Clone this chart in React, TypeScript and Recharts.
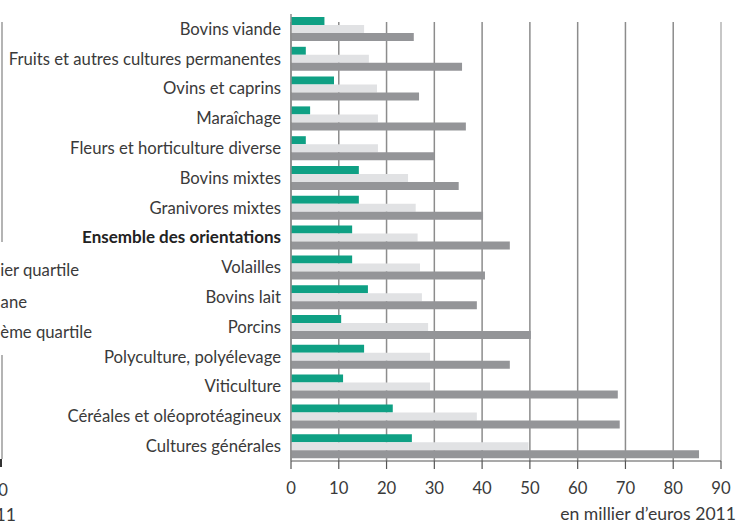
import React from "react";
import { BarChart, Bar, XAxis, YAxis, CartesianGrid } from "recharts";

const categories = [
  "Bovins viande",
  "Fruits et autres cultures permanentes",
  "Ovins et caprins",
  "Maraîchage",
  "Fleurs et horticulture diverse",
  "Bovins mixtes",
  "Granivores mixtes",
  "Ensemble des orientations",
  "Volailles",
  "Bovins lait",
  "Porcins",
  "Polyculture, polyélevage",
  "Viticulture",
  "Céréales et oléoprotéagineux",
  "Cultures générales",
];
const premierQuartile = [7, 3.1, 9, 4, 3.1, 14.2, 14.2, 12.8, 12.8, 16.1, 10.5, 15.3, 10.9, 21.3, 25.3];
const mediane = [15.3, 16.3, 18, 18.2, 18.2, 24.5, 26.1, 26.5, 27, 27.4, 28.7, 29.1, 29.1, 38.9, 49.7];
const troisiemeQuartile = [25.7, 35.8, 26.8, 36.6, 30, 35.1, 40.2, 45.8, 40.6, 38.9, 50.2, 45.8, 68.4, 68.8, 85.4];
const xTicks = [0, 10, 20, 30, 40, 50, 60, 70, 80, 90];
const axisTitle = "en millier d\u2019euros 2011";
const boldCategory = "Ensemble des orientations";

const data = categories.map((name, i) => ({
  name,
  q1: premierQuartile[i],
  med: mediane[i],
  q3: troisiemeQuartile[i],
}));

const FONT = "Lato, 'Open Sans', sans-serif";
const TEXT = "#3a3a3a";
const FS = 16.7;

const YTick = (props: any) => {
  const { x, y, payload } = props;
  const bold = payload.value === boldCategory;
  return (
    <text
      x={x}
      y={y}
      dy="0.35em"
      textAnchor="end"
      fill={bold ? "#222" : TEXT}
      fontSize={bold ? 17 : FS}
      fontWeight={bold ? 700 : 400}
      fontFamily={FONT}
    >
      {payload.value}
    </text>
  );
};

const XTick = (props: any) => {
  const { x, y, payload } = props;
  return (
    <text x={x} y={y} dy="0.71em" textAnchor="middle" fill={TEXT} fontSize={FS} fontFamily={FONT}>
      {payload.value}
    </text>
  );
};

const GridLine = (props: any) => {
  const { x1, x2, y1, y2, index } = props;
  const last = index === xTicks.length - 1;
  return (
    <line
      key={`g-${index}`}
      x1={x1}
      x2={x2}
      y1={Math.min(y1, y2) + 8}
      y2={Math.max(y1, y2)}
      stroke={last ? "#b4b4b4" : "#8c8c8c"}
      strokeWidth={1.5}
    />
  );
};

const abs = (style: React.CSSProperties): React.CSSProperties => ({
  position: "absolute",
  fontFamily: FONT,
  fontSize: FS,
  color: TEXT,
  whiteSpace: "nowrap",
  lineHeight: "20px",
  ...style,
});

export default function App() {
  return (
    <div style={{ position: "absolute", left: 0, top: 0, width: 738, height: 522, overflow: "hidden", background: "#fff" }}>
      {/* fragments of the neighbouring chart, cut by the left edge */}
      <div style={abs({ left: -300, width: 379, top: 260, textAlign: "right" })}>Premier quartile</div>
      <div style={abs({ left: -300, width: 327, top: 292, textAlign: "right" })}>Médiane</div>
      <div style={abs({ left: -300, width: 392, top: 322, textAlign: "right" })}>Troisième quartile</div>
      <div style={abs({ left: -300, width: 308, top: 480, textAlign: "right" })}>0</div>
      <div style={abs({ left: -300, width: 316, top: 505, fontSize: 17.6, textAlign: "right" })}>{axisTitle}</div>
      <div style={{ position: "absolute", left: 1, top: 22, width: 1.5, height: 220, background: "#b4b4b4" }} />
      <div style={{ position: "absolute", left: 1, top: 355, width: 1.5, height: 104, background: "#b4b4b4" }} />
      <div style={{ position: "absolute", left: 0, top: 459, width: 2, height: 8, background: "#333" }} />

      <div style={{ position: "absolute", left: 0, top: 0 }}>
        <BarChart
          width={738}
          height={522}
          data={data}
          layout="vertical"
          margin={{ top: 14, right: 17, bottom: 0, left: 0 }}
          barSize={8}
          barGap={0}
        >
          <CartesianGrid horizontal={false} vertical={GridLine as any} />
          <XAxis
            type="number"
            domain={[0, 90]}
            ticks={xTicks}
            interval={0}
            height={61}
            axisLine={{ stroke: "#555", strokeWidth: 1.2 }}
            tickLine={{ stroke: "#555", strokeWidth: 1.2 }}
            tickSize={8}
            tickMargin={13}
            tick={<XTick />}
          />
          <YAxis
            type="category"
            dataKey="name"
            width={291}
            interval={0}
            axisLine={{ stroke: "#8c8c8c", strokeWidth: 1.5 }}
            tickLine={false}
            tickSize={0}
            tickMargin={10}
            tick={<YTick />}
          />
          <Bar dataKey="q1" name="Premier quartile" fill="#0fa084" isAnimationActive={false} />
          <Bar dataKey="med" name="Médiane" fill="#e1e2e4" isAnimationActive={false} />
          <Bar dataKey="q3" name="Troisième quartile" fill="#949598" isAnimationActive={false} />
        </BarChart>
      </div>
      <div style={abs({ left: 300, width: 436, top: 504, fontSize: 17.6, textAlign: "right" })}>{axisTitle}</div>
    </div>
  );
}
